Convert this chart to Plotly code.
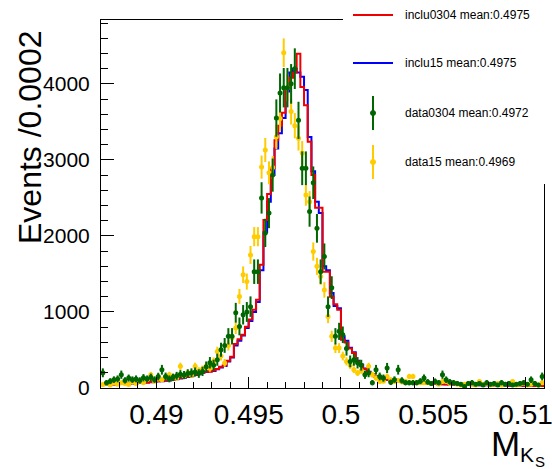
import math
import plotly.graph_objects as go

# Binning of the K_S mass histograms
BIN_LOW = 0.487
BIN_WIDTH = 0.0002
N_BINS = 120

# Per-bin contents (Events / 0.0002), bins 0..119
inclu0304 = [
    40, 45, 50, 45, 55, 60, 55, 60, 65, 60,
    70, 75, 70, 80, 85, 90, 95, 100, 105, 110,
    120, 130, 140, 150, 160, 175, 190, 205, 215, 215,
    230, 250, 280, 300, 360, 410, 580, 640, 700, 805,
    900, 1030, 1160, 1620, 2210, 2550, 2890, 3260, 3450, 3620,
    3950, 4080, 4150, 4395, 3960, 3720, 3240, 2800, 2370, 2370,
    1530, 1530, 1200, 1100, 1030, 635, 600, 520, 460, 350,
    300, 250, 210, 180, 150, 130, 120, 110, 100, 90,
    85, 85, 80, 75, 70, 70, 65, 60, 60, 55,
    55, 50, 50, 45, 50, 45, 40, 45, 40, 40,
    35, 40, 35, 35, 40, 30, 35, 30, 30, 35,
    30, 30, 25, 30, 30, 25, 30, 25, 30, 25,
]
inclu15 = [
    45, 40, 50, 50, 50, 55, 60, 55, 60, 65,
    65, 70, 75, 75, 80, 90, 90, 95, 100, 115,
    115, 125, 135, 145, 155, 170, 185, 200, 210, 220,
    225, 245, 270, 290, 350, 400, 560, 620, 690, 790,
    880, 1000, 1130, 1550, 2050, 2450, 2800, 3150, 3350, 3550,
    3900, 4150, 4200, 4150, 4095, 3920, 3300, 2850, 2450, 2300,
    1600, 1550, 1250, 1080, 1050, 680, 620, 530, 470, 360,
    310, 255, 215, 185, 155, 135, 120, 110, 100, 95,
    85, 80, 80, 75, 75, 70, 65, 65, 60, 55,
    55, 50, 50, 50, 45, 45, 45, 40, 40, 40,
    40, 35, 35, 40, 35, 35, 30, 35, 30, 30,
    30, 30, 30, 25, 30, 30, 25, 30, 25, 30,
]
data0304 = [
    200, 70, 90, 110, 120, 175, 100, 130, 110, 120,
    100, 135, 120, 140, 110, 150, 240, 152, 120, 140,
    160, 180, 170, 190, 200, 210, 190, 218, 280, 332,
    300, 372, 503, 560, 680, 680, 990, 810, 963, 1000,
    1070, 1530, 1530, 2500, 2040, 2300, 2800, 3550, 3880, 3950,
    3950, 4000, 4200, 3520, 2890, 2890, 2320, 2700, 2100, 1530,
    1730, 1070, 1320, 680, 745, 700, 520, 350, 372, 332,
    300, 175, 200, 70, 240, 152, 130, 263, 74, 110,
    240, 100, 70, 70, 70, 70, 90, 131, 80, 60,
    87, 70, 175, 109, 80, 70, 60, 50, 21, 60,
    70, 50, 60, 40, 70, 50, 60, 40, 70, 50,
    60, 40, 50, 60, 70, 50, 109, 60, 40, 152,
]
data15 = [
    45, 60, 40, 70, 50, 70, 60, 45, 80, 60,
    90, 70, 110, 175, 90, 120, 110, 140, 175, 150,
    130, 285, 160, 200, 170, 285, 230, 250, 285, 260,
    350, 480, 420, 330, 560, 660, 790, 1205, 1490, 1400,
    1750, 1990, 1990, 2905, 3130, 2830, 2900, 3305, 3545, 4410,
    3950, 3635, 3450, 3285, 3090, 2540, 2450, 1795, 1600, 1465,
    1290, 940, 680, 525, 525, 420, 350, 300, 240, 197,
    230, 180, 285, 175, 130, 87, 90, 152, 110, 87,
    100, 80, 90, 152, 152, 70, 70, 70, 70, 60,
    80, 50, 87, 87, 60, 70, 50, 40, 50, 60,
    50, 40, 87, 50, 60, 40, 50, 60, 40, 50,
    60, 87, 40, 50, 60, 40, 50, 60, 40, 70,
]

# Event weights of the scaled data samples (error = sqrt(w * content))
DATA0304_WEIGHT = 17.0
DATA15_WEIGHT = 8.0

legend_labels = [
    "inclu0304 mean:0.4975",
    "inclu15 mean:0.4975",
    "data0304 mean:0.4972",
    "data15 mean:0.4969",
]

x_tick_vals = [0.49, 0.495, 0.5, 0.505, 0.51]
x_tick_text = ["0.49", "0.495", "0.5", "0.505", "0.51"]
y_tick_vals = [0, 1000, 2000, 3000, 4000]
y_tick_text = ["0", "1000", "2000", "3000", "4000"]

RED = "#ee0000"
BLUE = "#0000ff"
GREEN = "#006600"
YELLOW = "#ffcc00"
FONT = "Liberation Sans, Arial, Helvetica, sans-serif"

edges = [BIN_LOW + BIN_WIDTH * i for i in range(N_BINS + 1)]
centers = [BIN_LOW + BIN_WIDTH * (i + 0.5) for i in range(N_BINS)]

fig = go.Figure()


def add_hist(values, color):
    fig.add_trace(go.Scatter(
        x=edges, y=values + [values[-1]], mode="lines",
        line=dict(color=color, width=2, shape="hv"),
        showlegend=False, hoverinfo="skip",
    ))


def add_points(values, weight, color):
    errs = [math.sqrt(weight * v) for v in values]
    fig.add_trace(go.Scatter(
        x=centers, y=values, mode="markers",
        marker=dict(symbol="circle", size=5, color=color),
        error_y=dict(type="data", array=errs, thickness=2, width=0, color=color),
        error_x=dict(type="constant", value=BIN_WIDTH / 2, thickness=2, width=0, color=color),
        showlegend=False, hoverinfo="skip",
    ))


add_hist(inclu15, BLUE)
add_hist(inclu0304, RED)
add_points(data15, DATA15_WEIGHT, YELLOW)
add_points(data0304, DATA0304_WEIGHT, GREEN)

# Frame geometry in pixels
W, H = 552, 469
ML, MR, MT, MB = 101, 8, 20, 81
PW, PH = W - ML - MR, H - MT - MB


def px(x):
    return (x - ML) / PW


def py(y):
    return (H - MB - y) / PH


shapes = []
annotations = []

# Legend box (white, covers the frame corner)
shapes.append(dict(type="rect", xref="paper", yref="paper",
                   x0=px(343), x1=px(553), y0=py(184), y1=py(-1),
                   fillcolor="white", line=dict(width=0), layer="above"))

legend_rows = [15, 63, 113, 162]
legend_colors = [RED, BLUE, GREEN, YELLOW]
for i, (label, color, yc) in enumerate(zip(legend_labels, legend_colors, legend_rows)):
    if i < 2:
        shapes.append(dict(type="line", xref="paper", yref="paper",
                           x0=px(353), x1=px(393), y0=py(yc), y1=py(yc),
                           line=dict(color=color, width=2), layer="above"))
    else:
        shapes.append(dict(type="line", xref="paper", yref="paper",
                           x0=px(373), x1=px(373), y0=py(yc - 17), y1=py(yc + 17),
                           line=dict(color=color, width=2), layer="above"))
        shapes.append(dict(type="circle", xref="paper", yref="paper",
                           x0=px(370.5), x1=px(375.5), y0=py(yc - 2.5), y1=py(yc + 2.5),
                           fillcolor=color, line=dict(color=color, width=1), layer="above"))
    annotations.append(dict(xref="paper", yref="paper", x=px(403), y=py(yc),
                            xanchor="left", yanchor="middle", showarrow=False,
                            text=label, font=dict(family=FONT, size=12, color="black")))

# Axis titles
annotations.append(dict(xref="paper", yref="paper", x=px(30), y=py(138),
                        xanchor="center", yanchor="middle", textangle=-90,
                        showarrow=False, text="Events /0.0002",
                        font=dict(family=FONT, size=32, color="black")))
annotations.append(dict(xref="paper", yref="paper", x=px(505), y=py(443),
                        xanchor="center", yanchor="middle", showarrow=False,
                        text="M", font=dict(family=FONT, size=35, color="black")))
annotations.append(dict(xref="paper", yref="paper", x=px(527), y=py(454),
                        xanchor="center", yanchor="middle", showarrow=False,
                        text="K", font=dict(family=FONT, size=21, color="black")))
annotations.append(dict(xref="paper", yref="paper", x=px(540), y=py(461),
                        xanchor="center", yanchor="middle", showarrow=False,
                        text="S", font=dict(family=FONT, size=15, color="black")))

fig.update_layout(
    width=W, height=H,
    margin=dict(l=ML, r=MR, t=MT, b=MB, pad=0, autoexpand=False),
    paper_bgcolor="white", plot_bgcolor="white",
    showlegend=False,
    shapes=shapes, annotations=annotations,
    xaxis=dict(
        range=[BIN_LOW, BIN_LOW + BIN_WIDTH * N_BINS],
        tickmode="array", tickvals=x_tick_vals, ticktext=x_tick_text,
        ticks="inside", ticklen=11, tickwidth=1, tickcolor="black",
        minor=dict(ticks="inside", ticklen=6, tickwidth=1, tickcolor="black",
                   tick0=0.49, dtick=0.001),
        showline=True, linecolor="black", linewidth=1, mirror=True,
        showgrid=False, zeroline=False, automargin=False,
        tickfont=dict(family=FONT, size=28, color="black"),
        ticklabelstandoff=1, ticklabeloverflow="allow",
    ),
    yaxis=dict(
        range=[0, 4840],
        tickmode="array", tickvals=y_tick_vals, ticktext=y_tick_text,
        ticks="inside", ticklen=13, tickwidth=1, tickcolor="black",
        minor=dict(ticks="inside", ticklen=7, tickwidth=1, tickcolor="black",
                   tick0=0, dtick=200),
        showline=True, linecolor="black", linewidth=1, mirror=True,
        showgrid=False, zeroline=False, automargin=False,
        tickfont=dict(family=FONT, size=21, color="black"),
        ticklabelstandoff=6, ticklabeloverflow="allow",
    ),
)

fig.write_html("out.html", include_plotlyjs=True, config={"displayModeBar": False})
